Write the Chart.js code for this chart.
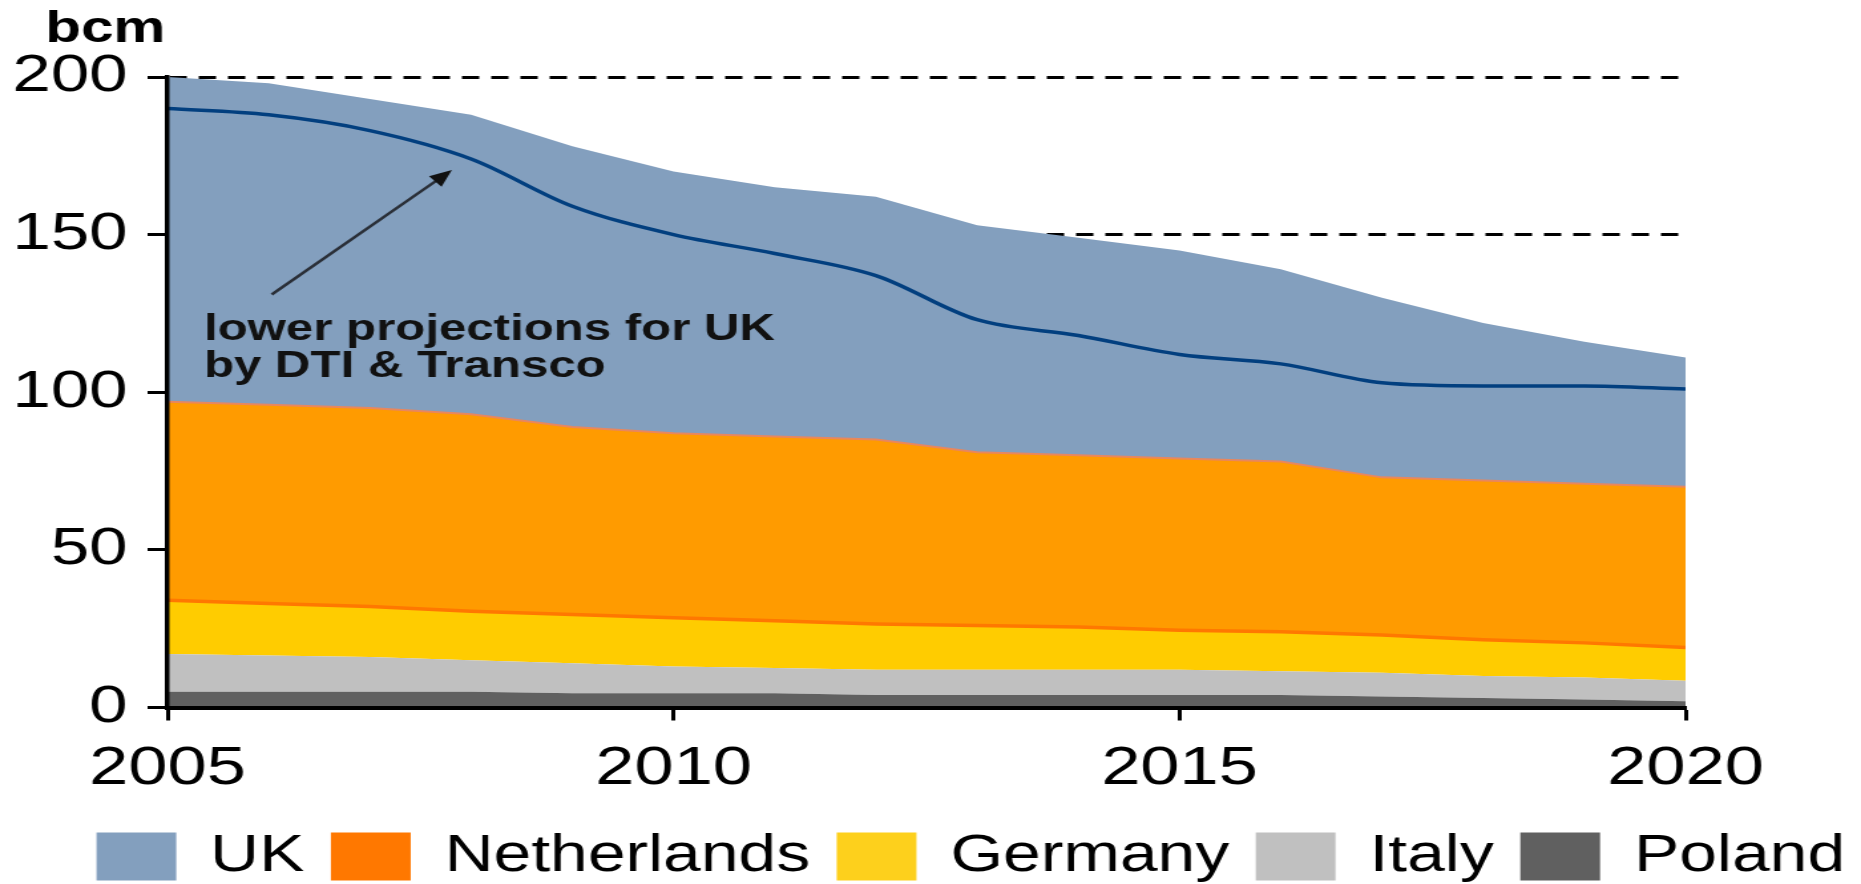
<!DOCTYPE html>
<html>
<head>
<meta charset="utf-8">
<script src="https://cdn.jsdelivr.net/npm/chart.js@4.4.0/dist/chart.umd.min.js"></script>
<style>
  html, body { margin: 0; padding: 0; background: #fff; overflow: hidden; }
</style>
</head>
<body>
<!-- the original picture is stretched sideways, so the canvas is too -->
<canvas id="gasChart" width="1400" height="884" style="display:block;width:1861px;height:884px"></canvas>
<script>
// years on the x axis
const years = [2005, 2006, 2007, 2008, 2009, 2010, 2011, 2012, 2013, 2014, 2015, 2016, 2017, 2018, 2019, 2020];

// production, bcm (stacked, bottom to top)
const poland      = [5, 5, 5, 5, 4.5, 4.5, 4.5, 4, 4, 4, 4, 4, 3.5, 3, 2.5, 2];
const italy       = [12, 11.5, 11, 10, 9.5, 8.5, 8, 8, 8, 8, 8, 7.5, 7.5, 7, 7, 6.5];
const germany     = [17, 16.5, 16, 15.5, 15.5, 15.5, 15, 14.5, 14, 13.5, 12.5, 12.5, 12, 11.5, 11, 10.5];
const netherlands = [63, 63, 63, 62.5, 59.5, 58.5, 58.5, 58.5, 55, 54.5, 54.5, 54, 50, 50.5, 50.5, 51];
const uk          = [103, 102, 98, 95, 89, 83, 79, 77, 72, 69, 66, 61, 57, 50, 45, 41];

// lower projection for the UK (DTI & Transco), total level
const dtiUk = [190, 188, 183, 174, 159, 150, 144, 137, 123, 118, 112, 109, 103, 102, 102, 101];

const yTicks = [0, 50, 100, 150, 200];
const xTicks = [2005, 2010, 2015, 2020];
const unitLabel = 'bcm';
const noteLines = ['lower projections for UK', 'by DTI & Transco'];

const FONT = '"Liberation Sans", Arial, sans-serif';

const toPoints = (vals) => years.map((yr, i) => ({ x: yr, y: vals[i] }));

// legend swatch colours differ slightly from the area fills
const legendColors = ['#606060', '#c0c0c0', '#fdd01c', '#ff7800', '#839fbe'];

const overlayText = {
  id: 'overlayText',
  afterDatasetsDraw(chart) {
    const { ctx } = chart;
    const xs = chart.scales.x, ys = chart.scales.y;
    // annotation arrow, placed in data units
    const x1 = xs.getPixelForValue(2006.03), y1 = ys.getPixelForValue(131);
    const x2 = xs.getPixelForValue(2007.81), y2 = ys.getPixelForValue(170.5);
    const ang = Math.atan2(y2 - y1, x2 - x1);
    const len = 17, half = 7;
    ctx.save();
    ctx.strokeStyle = '#2a2f38';
    ctx.lineWidth = 2.5;
    ctx.beginPath();
    ctx.moveTo(x1, y1);
    ctx.lineTo(x2 - Math.cos(ang) * len * 0.8, y2 - Math.sin(ang) * len * 0.8);
    ctx.stroke();
    ctx.fillStyle = '#111';
    ctx.beginPath();
    ctx.moveTo(x2, y2);
    ctx.lineTo(x2 - Math.cos(ang) * len - Math.sin(ang) * half, y2 - Math.sin(ang) * len + Math.cos(ang) * half);
    ctx.lineTo(x2 - Math.cos(ang) * len + Math.sin(ang) * half, y2 - Math.sin(ang) * len - Math.cos(ang) * half);
    ctx.closePath();
    ctx.fill();

    ctx.font = 'bold 37px ' + FONT;
    ctx.fillStyle = '#111';
    ctx.textBaseline = 'alphabetic';
    const tx = xs.getPixelForValue(2005.36);
    ctx.fillText(noteLines[0], tx, ys.getPixelForValue(116.5));
    ctx.fillText(noteLines[1], tx, ys.getPixelForValue(104.8));
    ctx.restore();
  },
  afterDraw(chart) {
    const { ctx } = chart;
    ctx.save();
    ctx.font = 'bold 44px ' + FONT;
    ctx.fillStyle = '#000';
    ctx.textBaseline = 'alphabetic';
    ctx.fillText(unitLabel, 34, 42);
    ctx.restore();
  }
};

const ctx = document.getElementById('gasChart').getContext('2d');
const gasChart = new Chart(ctx, {
  type: 'line',
  data: {
    datasets: [
      { label: 'Poland', data: toPoints(poland), backgroundColor: '#606060', borderWidth: 0, fill: 'origin' },
      { label: 'Italy', data: toPoints(italy), backgroundColor: '#c0c0c0', borderWidth: 0, fill: '-1' },
      { label: 'Germany', data: toPoints(germany), backgroundColor: '#ffcc00', borderColor: '#ff7800', borderWidth: 3.5, fill: '-1' },
      { label: 'Netherlands', data: toPoints(netherlands), backgroundColor: '#ff9b00', borderColor: '#e8875e', borderWidth: 2, fill: '-1' },
      { label: 'UK', data: toPoints(uk), backgroundColor: '#839fbe', borderWidth: 0, fill: '-1' },
      {
        label: 'DTI',
        data: toPoints(dtiUk),
        stack: 'dti',
        order: -1,
        fill: false,
        borderColor: '#023f7f',
        borderWidth: 3.5,
        cubicInterpolationMode: 'monotone'
      }
    ]
  },
  options: {
    responsive: false,
    animation: false,
    devicePixelRatio: 1,
    layout: { padding: { top: 77, left: 0, right: -8, bottom: -8 } },
    elements: { point: { radius: 0, hoverRadius: 0 }, line: { tension: 0 } },
    scales: {
      x: {
        type: 'linear',
        min: xTicks[0],
        max: xTicks[xTicks.length - 1],
        afterBuildTicks: (s) => { s.ticks = xTicks.map(v => ({ value: v })); },
        afterFit: (s) => { s.height = 103.5; },
        grid: { drawOnChartArea: false, drawTicks: true, tickLength: 13, tickWidth: 3, tickColor: '#000' },
        border: { display: true, color: '#000', width: 4, z: 1 },
        ticks: {
          color: '#000',
          padding: 17.5,
          maxRotation: 0,
          font: { family: FONT, size: 53 },
          callback: (v) => String(v)
        }
      },
      y: {
        stacked: true,
        min: yTicks[0],
        max: yTicks[yTicks.length - 1],
        afterBuildTicks: (s) => { s.ticks = yTicks.map(v => ({ value: v })); },
        afterFit: (s) => { s.width = 126; },
        grid: { color: '#000', lineWidth: 3, drawTicks: true, tickLength: 15, tickWidth: 3, tickColor: '#000', tickBorderDash: [] },
        border: { display: true, color: '#000', width: 3.5, dash: [13, 9], z: 1 },
        ticks: {
          color: '#000',
          padding: 15,
          font: { family: FONT, size: 52 },
          callback: (v) => String(v)
        }
      },
      // empty right axis only reserves the blank strip right of 2020
      spacer: {
        position: 'right',
        display: true,
        grid: { display: false },
        border: { display: false },
        ticks: { display: false },
        afterFit: (s) => { s.width = 140; }
      }
    },
    plugins: {
      tooltip: { enabled: false },
      legend: {
        position: 'bottom',
        align: 'end',
        reverse: true,
        labels: {
          boxWidth: 60,
          boxHeight: 48,
          padding: 20,
          color: '#000',
          font: { family: FONT, size: 51 },
          filter: (item) => item.text !== 'DTI',
          generateLabels: (chart) => {
            const items = Chart.defaults.plugins.legend.labels.generateLabels(chart);
            items.forEach(it => {
              if (legendColors[it.datasetIndex]) it.fillStyle = legendColors[it.datasetIndex];
              it.lineWidth = 0;
              it.strokeStyle = 'rgba(0,0,0,0)';
            });
            return items;
          }
        }
      }
    }
  },
  plugins: [overlayText]
});
</script>
</body>
</html>
